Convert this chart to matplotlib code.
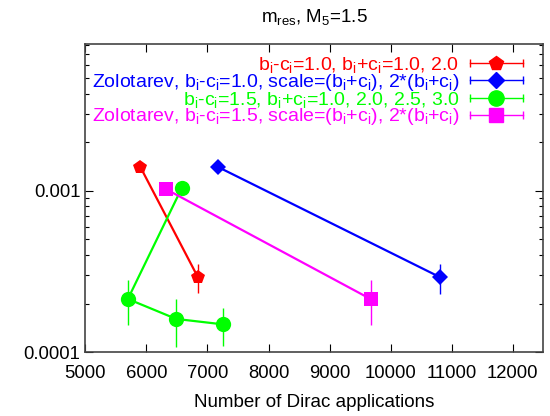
import numpy as np
import matplotlib
matplotlib.use("Agg")
import matplotlib.pyplot as plt
from matplotlib.lines import Line2D
from matplotlib.legend_handler import HandlerBase
from matplotlib.ticker import FixedLocator, FixedFormatter, NullFormatter

plt.rcParams['font.family'] = ['Liberation Sans', 'DejaVu Sans']
plt.rcParams['mathtext.default'] = 'regular'

# data
red_x = [5900, 6840]
red_y = [0.00141, 0.000294]
red_err = [0.0, 0.00006]

blue_x = [7165, 10815]
blue_y = [0.00141, 0.000291]
blue_err = [0.0, 0.00006]

green_x = [6577, 5698, 6489, 7257]
green_y = [0.001035, 0.000214, 0.000161, 0.000149]
green_err = [0.0, 0.000066, 0.000053, 0.00004]

mag_x = [6330, 9670]
mag_y = [0.00102, 0.000214]
mag_err = [0.0, 0.000066]

labels = [
    r"b$_i$-c$_i$=1.0, b$_i$+c$_i$=1.0, 2.0",
    r"Zolotarev, b$_i$-c$_i$=1.0, scale=(b$_i$+c$_i$), 2*(b$_i$+c$_i$)",
    r"b$_i$-c$_i$=1.5, b$_i$+c$_i$=1.0, 2.0, 2.5, 3.0",
    r"Zolotarev, b$_i$-c$_i$=1.5, scale=(b$_i$+c$_i$), 2*(b$_i$+c$_i$)",
]

series = [
    (red_x, red_y, red_err, '#ff0000', 'p', 10.5),
    (blue_x, blue_y, blue_err, '#0000ff', 'D', 8.5),
    (green_x, green_y, green_err, '#00ff00', 'o', 11),
    (mag_x, mag_y, mag_err, '#ff00ff', 's', 10.5),
]


class ErrHandler(HandlerBase):
    # gnuplot-like key sample: horizontal bar with end caps and the marker
    def create_artists(self, legend, h, xdescent, ydescent, width, height, fontsize, trans):
        y = height / 2 - ydescent
        x0, x1 = -xdescent, width - xdescent
        bar = Line2D([x0, x1], [y, y], color=h.get_color(), lw=1.0,
                     marker='|', markersize=6, markeredgewidth=1.0, transform=trans)
        mk = Line2D([(x0 + x1) / 2], [y], color=h.get_color(), marker=h.get_marker(),
                    markersize=h.get_markersize(), linestyle='none', transform=trans)
        return [bar, mk]


fig = plt.figure(figsize=(5.5, 4.16), dpi=100)
ax = fig.add_axes([0.155, 0.153, 0.833, 0.741])

handles = []
for (x, y, e, c, m, ms), lab in zip(series, labels):
    ax.errorbar(x, y, yerr=e, color=c, lw=1.6, elinewidth=1.0, capsize=3,
                marker=m, markersize=ms, markeredgewidth=0)
    handles.append(Line2D([], [], color=c, marker=m, markersize=ms))

ax.set_yscale('log')
ax.set_xlim(5000, 12500)
ax.set_ylim(0.0001, 0.0081)
ax.set_xticks(range(5000, 12001, 1000))
ax.yaxis.set_major_locator(FixedLocator([0.0001, 0.001]))
ax.yaxis.set_major_formatter(FixedFormatter(['0.0001', '0.001']))
ax.yaxis.set_minor_locator(FixedLocator([k * 1e-4 for k in range(2, 10)] + [k * 1e-3 for k in range(2, 9)]))
ax.yaxis.set_minor_formatter(NullFormatter())
ax.tick_params(which='both', direction='in', top=True, right=True, labelsize=13.3)
ax.tick_params(which='major', length=6, width=0.8)
ax.tick_params(which='minor', length=3, width=0.8)
ax.tick_params(axis='x', pad=9)
for s in ax.spines.values():
    s.set_color('#444444')
    s.set_linewidth(1.2)

ax.set_xlabel("Number of Dirac applications", fontsize=13.5, labelpad=9)
ax.set_title(r"m$_{res}$, M$_5$=1.5", fontsize=13.5, pad=16)

ax.legend(handles, labels, handler_map={Line2D: ErrHandler()}, loc='upper right',
          bbox_to_anchor=(0.963, 0.978), frameon=False, markerfirst=False,
          labelcolor='linecolor', fontsize=14, handlelength=2.7, handletextpad=0.55,
          labelspacing=-0.16, borderaxespad=0.0, borderpad=0.2)

fig.savefig("out.png", dpi=100)
